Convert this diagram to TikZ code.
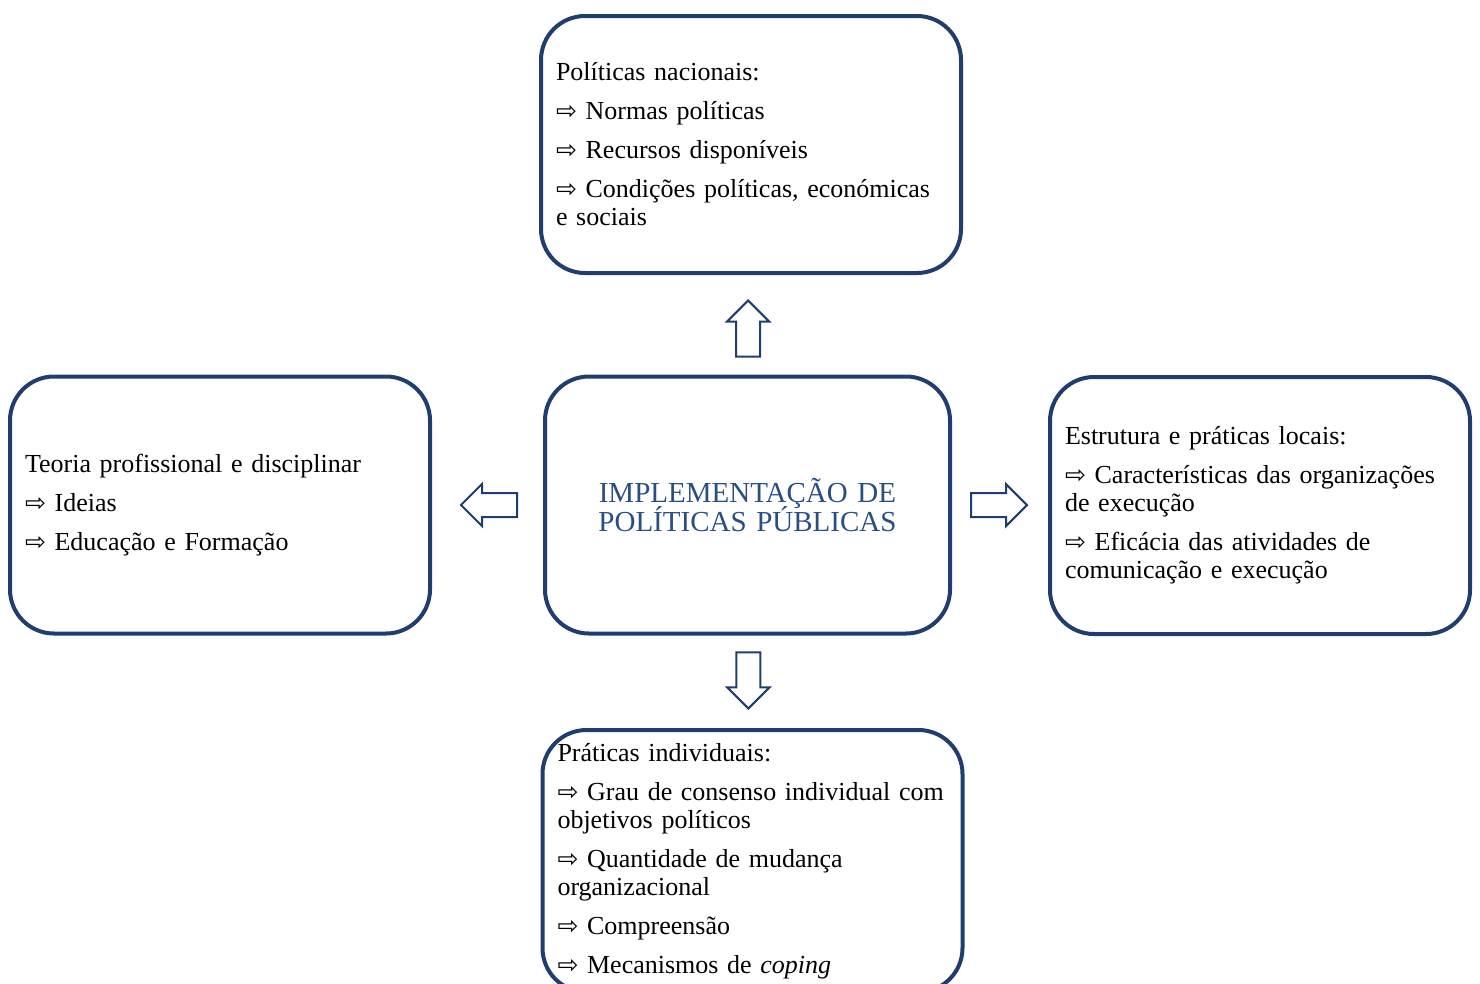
\documentclass[tikz,border=0pt]{standalone}
\usepackage{fontspec}
\setmainfont{Liberation Serif}
\newfontfamily\symfont{DejaVu Sans}
\usepackage{xcolor}
\usetikzlibrary{shapes.arrows, positioning, calc}
\definecolor{boxblue}{RGB}{31,61,110}
\definecolor{titleblue}{RGB}{40,78,132}
\newcommand{\seta}{{\symfont\fontsize{25}{25}\selectfont ⇨}\ }

\begin{document}
\begin{tikzpicture}[x=1pt, y=-1pt]
\tikzstyle{box} = [rectangle, draw=boxblue, line width=4pt, rounded corners=44pt, minimum width=420pt, minimum height=257pt, inner xsep=15pt, text width=390pt, align=left, font={\fontsize{26}{28}\selectfont\lineskiplimit=-20pt}]
\tikzstyle{hollow} = [single arrow, draw=boxblue, line width=2pt, minimum height=56pt, minimum width=40pt, single arrow head extend=9pt, text height=0pt, text depth=0pt, inner xsep=0pt, inner ysep=11pt, anchor=tail]
\useasboundingbox (0,0) rectangle (1480,983);

% Centre
\node[box, minimum width=405pt, text width=375pt, align=center, text=titleblue, font={\fontsize{29}{29}\selectfont\lineskiplimit=-20pt}] (impl) at (747.5,505) {IMPLEMENTAÇÃO DE\\POLÍTICAS PÚBLICAS};

% Surrounding boxes
\node[box] (nacional) at (751,144.5) {Políticas nacionais:\\[11pt]
\seta Normas políticas\\[11pt]
\seta Recursos disponíveis\\[11pt]
\seta Condições políticas, económicas\\e sociais};

\node[box] (teoria) at (220,505) {Teoria profissional e disciplinar\\[11pt]
\seta Ideias\\[11pt]
\seta Educação e Formação};

\node[box] (local) at (1260,505.5) {Estrutura e práticas locais:\\[11pt]
\seta Características das organizações\\de execução\\[11pt]
\seta Eficácia das atividades de\\comunicação e execução};

\node[box, minimum height=262pt] (individual) at (752.5,861) {Práticas individuais:\\[11pt]
\seta Grau de consenso individual com\\objetivos políticos\\[11pt]
\seta Quantidade de mudança\\organizacional\\[11pt]
\seta Compreensão\\[11pt]
\seta Mecanismos de \textit{coping}};

% Arrows
\node[hollow, rotate=90] (up) at ($(impl.north)!17pt!(nacional.south)$) {};
\node[hollow, rotate=180] (left) at ($(impl.west)!25pt!(teoria.east)$) {};
\node[hollow] (right) at ($(impl.east)!18pt!(local.west)$) {};
\node[hollow, rotate=270] (down) at ($(impl.south)!16pt!(individual.north)$) {};
\end{tikzpicture}
\end{document}
